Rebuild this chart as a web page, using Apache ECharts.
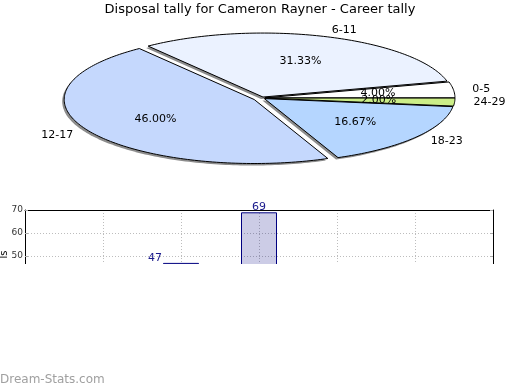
<!DOCTYPE html>
<html><head><meta charset="utf-8">
<script src="https://cdn.jsdelivr.net/npm/echarts@6/dist/echarts.min.js"></script>
<style>html,body{margin:0;padding:0;background:#fff}#c{width:520px;height:390px}</style>
</head><body><div id="c"></div>
<script>
// ---- data ----
const categories = ['0-5', '6-11', '12-17', '18-23', '24-29'];
const counts = [6, 47, 69, 25, 3];
const barCategories = ['', '0-5', '6-11', '12-17', '18-23', '24-29', ''];
const barValues = [null, 6, 47, 69, 25, 3, null];
const yTickMin = 0, yTickMax = 70, yTickStep = 10;

// ---- styles ----
const sliceColors = ['#ffffff', '#ebf2ff', '#c5d8fd', '#b5d6ff', '#ccee88'];
const explode = [3, 3, 9, 3, 3];
const FONT = 'DejaVu Sans';

const total = counts.reduce((a, b) => a + b, 0);
const starts = [];
let acc = 0;
counts.forEach(v => { starts.push(acc / total * 2 * Math.PI); acc += v; });

const CX = 262, CY = 98, RX = 190, RY = 64;

function renderPie(params, api) {
  const i = params.dataIndex;
  const v = api.value(0);
  const a0 = starts[i], a1 = a0 + v / total * 2 * Math.PI;
  const mid = (a0 + a1) / 2;
  const ox = explode[i] * Math.cos(mid), oy = -explode[i] * Math.sin(mid) * RY / RX;
  const cx = CX + ox, cy = CY + oy;
  const pts = [[cx, cy]];
  const n = Math.max(4, Math.ceil((a1 - a0) / 0.02));
  for (let k = 0; k <= n; k++) {
    const t = a0 + (a1 - a0) * k / n;
    pts.push([cx + RX * Math.cos(t), cy - RY * Math.sin(t)]);
  }
  const shadowPts = pts.map(p => [p[0] - 2, p[1] + 2]);
  const lx = cx + 0.6 * RX * Math.cos(mid), ly = cy - 0.6 * RY * Math.sin(mid);
  const tx = cx + 1.1 * RX * Math.cos(mid), ty = cy - 1.1 * RY * Math.sin(mid);
  return {
    type: 'group',
    children: [
      { type: 'polygon', z2: 0, shape: { points: shadowPts }, style: { fill: '#8c8c8c' } },
      { type: 'polygon', z2: 10, shape: { points: pts }, style: { fill: sliceColors[i], stroke: '#000', lineWidth: 1 } },
      { type: 'text', z2: 20, x: lx, y: ly, style: { text: (v / total * 100).toFixed(2) + '%', align: 'center', verticalAlign: 'middle', font: '11px "' + FONT + '"', fill: '#000' } },
      { type: 'text', z2: 20, x: tx, y: ty, style: { text: categories[i], align: Math.cos(mid) >= 0 ? 'left' : 'right', verticalAlign: 'middle', font: '11px "' + FONT + '"', fill: '#000' } }
    ]
  };
}

const barData = barValues.map((v, idx) => {
  if (idx === 2) {
    return { value: v, label: { position: [-1, -5], align: 'right', verticalAlign: 'middle' } };
  }
  return v;
});

const chart = echarts.init(document.getElementById('c'), null, { renderer: 'canvas' });
chart.setOption({
  animation: false,
  backgroundColor: '#fff',
  textStyle: { fontFamily: FONT },
  title: {
    text: 'Disposal tally for Cameron Rayner - Career tally',
    left: 'center', top: 3, padding: 0,
    textStyle: { fontSize: 13, fontWeight: 'normal', color: '#000', fontFamily: FONT }
  },
  grid: { left: 25, right: 27, top: 210, bottom: 19 },
  xAxis: [
    {
      type: 'category', data: barCategories, boundaryGap: false,
      axisLine: { show: false }, axisTick: { show: false }, axisLabel: { show: false },
      splitLine: { show: true, interval: (i) => i > 0 && i < barCategories.length - 1, lineStyle: { color: '#bdbdbd', type: [1, 2] } }
    },
    {
      type: 'category', data: barCategories, boundaryGap: false, position: 'top',
      axisLine: { show: true, onZero: false, lineStyle: { color: '#000', width: 1 } },
      axisTick: { show: false }, axisLabel: { show: false }, splitLine: { show: false }
    }
  ],
  yAxis: [
    {
      type: 'value', min: yTickMin, max: yTickMax, interval: yTickStep, position: 'left',
      axisLine: { show: true, onZero: false, lineStyle: { color: '#000', width: 1 } },
      axisTick: { show: true, inside: true, length: 3, lineStyle: { color: '#aaa' } },
      axisLabel: { margin: 2, fontSize: 9, color: '#333', fontFamily: FONT },
      splitLine: { show: true, showMaxLine: false, lineStyle: { color: '#bdbdbd', type: [1, 2] } }
    },
    {
      type: 'value', min: yTickMin, max: yTickMax, interval: yTickStep, position: 'right',
      axisLine: { show: true, onZero: false, lineStyle: { color: '#000', width: 1 } },
      axisTick: { show: true, inside: true, length: 3, lineStyle: { color: '#aaa' } },
      axisLabel: { show: false }, splitLine: { show: false }
    }
  ],
  series: [
    {
      type: 'custom', coordinateSystem: 'none', silent: true,
      renderItem: renderPie, data: counts
    },
    {
      type: 'bar', xAxisIndex: 0, yAxisIndex: 0, data: barData, barWidth: 36,
      itemStyle: { color: 'rgba(0,0,128,0.2)', borderColor: '#000080', borderWidth: 1 },
      label: { show: true, position: 'top', distance: 0, color: '#1a1a8c', fontSize: 11, fontFamily: FONT }
    }
  ],
  graphic: [
    { type: 'text', z: 50, x: 4.5, y: 250.5, rotation: Math.PI / 2,
      style: { text: 'Disposals', align: 'right', verticalAlign: 'middle', font: '10px "' + FONT + '"', fill: '#000' } },
    { type: 'rect', z: 100, shape: { x: 0, y: 264, width: 520, height: 126 }, style: { fill: '#fff' } },
    { type: 'rect', z: 100, shape: { x: 0, y: 259, width: 12, height: 6 }, style: { fill: '#fff' } },
    { type: 'text', z: 101, x: 0, y: 380,
      style: { text: 'Dream-Stats.com', align: 'left', verticalAlign: 'middle', font: '12px "' + FONT + '"', fill: '#a0a0a0' } }
  ]
});
</script></body></html>
